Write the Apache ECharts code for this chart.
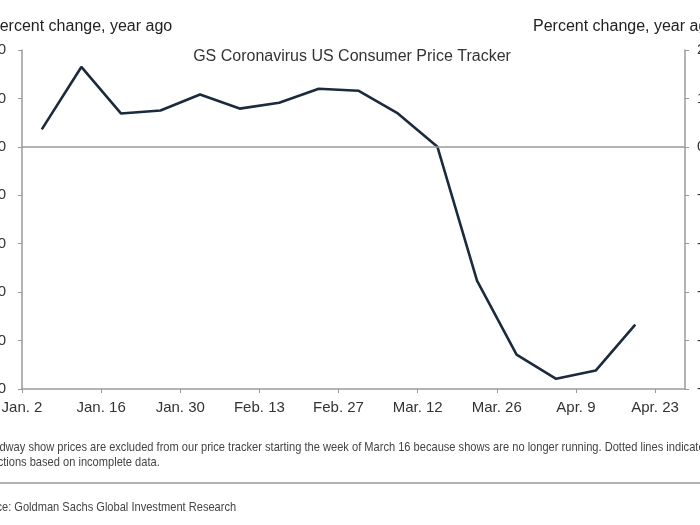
<!DOCTYPE html>
<html>
<head>
<meta charset="utf-8">
<script src="https://cdn.jsdelivr.net/npm/echarts@6/dist/echarts.min.js"></script>
<style>
html,body{margin:0;padding:0;background:#fff;}
#chart{width:700px;height:525px;}
</style>
</head>
<body>
<div id="chart"></div>
<script>
// Days after Jan. 2 (weekly observations)
const weekDays = [3.5, 10.5, 17.5, 24.5, 31.5, 38.5, 45.5, 52.5, 59.5, 66.5, 73.5, 80.5, 87.5, 94.5, 101.5, 108.5];
// GS Coronavirus US Consumer Price Tracker, percent change year ago
const priceTracker = [0.36, 1.65, 0.69, 0.75, 1.08, 0.79, 0.91, 1.20, 1.16, 0.69, 0.00, -2.76, -4.29, -4.79, -4.62, -3.67];
const tickDays = [0, 14, 28, 42, 56, 70, 84, 98, 112];
const tickLabels = ['Jan. 2', 'Jan. 16', 'Jan. 30', 'Feb. 13', 'Feb. 27', 'Mar. 12', 'Mar. 26', 'Apr. 9', 'Apr. 23'];
const yMin = -5, yMax = 2, yStep = 1;

const axisGray = '#9a9a9a';
const sansFont = '"Liberation Sans", Arial, sans-serif';

const chart = echarts.init(document.getElementById('chart'), null, {renderer: 'canvas'});

const yAxisBase = {
  type: 'value', min: yMin, max: yMax, interval: yStep,
  axisLine: {show: true, lineStyle: {color: axisGray, width: 1.5}},
  axisTick: {show: true, length: 4, inside: false, lineStyle: {color: axisGray}},
  splitLine: {show: false},
  axisLabel: {color: '#333', fontSize: 15, fontFamily: sansFont, formatter: v => v.toFixed(1)}
};

chart.setOption({
  animation: false,
  backgroundColor: '#fff',
  title: {
    text: 'GS Coronavirus US Consumer Price Tracker',
    left: 347, top: 44, textAlign: 'center',
    textStyle: {fontSize: 16, fontWeight: 'normal', color: '#333', fontFamily: sansFont}
  },
  grid: {left: 22, right: 15, top: 50, bottom: 136, containLabel: false, outerBoundsMode: 'none'},
  xAxis: {
    type: 'value', min: 0, max: 117.3,
    axisLine: {show: true, onZero: false, lineStyle: {color: axisGray, width: 1.5}},
    axisTick: {show: true, length: 4, customValues: tickDays, lineStyle: {color: axisGray}},
    axisLabel: {
      customValues: tickDays, margin: 11, color: '#333', fontSize: 15, fontFamily: sansFont,
      formatter: v => tickLabels[tickDays.indexOf(v)] || ''
    },
    splitLine: {show: false}
  },
  yAxis: [
    Object.assign({}, yAxisBase, {position: 'left', axisLabel: Object.assign({}, yAxisBase.axisLabel, {margin: 16})}),
    Object.assign({}, yAxisBase, {position: 'right', axisLabel: Object.assign({}, yAxisBase.axisLabel, {margin: 12})})
  ],
  series: [{
    type: 'line',
    yAxisIndex: 0,
    data: weekDays.map((d, i) => [d, priceTracker[i]]),
    symbol: 'none',
    lineStyle: {color: '#1b2a3c', width: 2.6},
    markLine: {
      silent: true, symbol: 'none', label: {show: false},
      lineStyle: {color: axisGray, width: 1.5, type: 'solid'},
      data: [{yAxis: 0}]
    },
    z: 3
  }],
  graphic: [
    {type: 'text', x: -11, y: 19, style: {text: 'Percent change, year ago', fill: '#222', font: '16px ' + sansFont}},
    {type: 'text', x: 533, y: 19, style: {text: 'Percent change, year ago', fill: '#222', font: '16px ' + sansFont}},
    {type: 'text', x: -24, y: 441, scaleX: 0.853, style: {text: 'Broadway show prices are excluded from our price tracker starting the week of March 16 because shows are no longer running. Dotted lines indicate', fill: '#444', font: '13px ' + sansFont}},
    {type: 'text', x: -27, y: 456, scaleX: 0.853, style: {text: 'projections based on incomplete data.', fill: '#444', font: '13px ' + sansFont}},
    {type: 'line', shape: {x1: 0, y1: 483, x2: 700, y2: 483}, style: {stroke: '#999', lineWidth: 1.5}},
    {type: 'text', x: -27, y: 501, scaleX: 0.853, style: {text: 'Source: Goldman Sachs Global Investment Research', fill: '#444', font: '13px ' + sansFont}}
  ]
});
</script>
</body>
</html>
